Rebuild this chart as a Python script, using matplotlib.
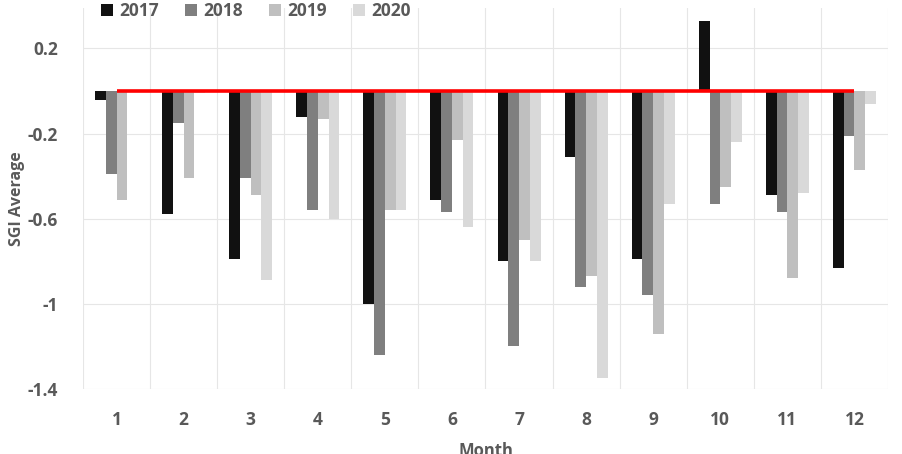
import matplotlib
matplotlib.use("Agg")
import matplotlib.pyplot as plt
import numpy as np

months = ["1", "2", "3", "4", "5", "6", "7", "8", "9", "10", "11", "12"]
years = ["2017", "2018", "2019", "2020"]
v2017 = [-0.04, -0.58, -0.79, -0.12, -1.00, -0.51, -0.80, -0.31, -0.79, 0.33, -0.49, -0.83]
v2018 = [-0.39, -0.15, -0.41, -0.56, -1.24, -0.57, -1.20, -0.92, -0.96, -0.53, -0.57, -0.21]
v2019 = [-0.51, -0.41, -0.49, -0.13, -0.56, -0.23, -0.70, -0.87, -1.14, -0.45, -0.88, -0.37]
v2020 = [0.0, -0.01, -0.89, -0.60, -0.56, -0.64, -0.80, -1.35, -0.53, -0.24, -0.48, -0.06]
colors = ["#111111", "#7f7f7f", "#bfbfbf", "#d9d9d9"]
yticks = [0.2, -0.2, -0.6, -1.0, -1.4]
ytick_labels = ["0.2", "-0.2", "-0.6", "-1", "-1.4"]

plt.rcParams['font.family'] = ['Open Sans', 'DejaVu Sans']
plt.rcParams['font.weight'] = 'bold'

fig = plt.figure(figsize=(9.03, 4.54), dpi=100)
ax = fig.add_axes([0.0919, 0.1432, 0.8915, 0.8392])

x = np.arange(len(months))
bw = 0.16
series = [v2017, v2018, v2019, v2020]
for i, (vals, c, yr) in enumerate(zip(series, colors, years)):
    ax.bar(x + (i - 1.5) * bw, vals, width=bw, color=c, label=yr, zorder=2)

ax.plot([x[0], x[-1]], [0, 0], color="#ff0000", lw=2.6, zorder=3, solid_capstyle='butt')

ax.set_xlim(-0.5, len(months) - 0.5)
ax.set_ylim(-1.4, 0.39)
ax.set_yticks(yticks)
ax.set_yticklabels(ytick_labels)
ax.set_xticks(x)
ax.set_xticklabels(months)

ax.set_xticks(np.arange(-0.5, len(months), 1.0), minor=True)
ax.grid(which='minor', axis='x', color='#e6e6e6', lw=0.8, zorder=0)
ax.grid(which='major', axis='y', color='#e6e6e6', lw=0.8, zorder=0)
ax.tick_params(which='both', length=0)
ax.tick_params(axis='x', pad=16, labelsize=12.5, labelcolor='#595959')
ax.tick_params(axis='y', pad=18, labelsize=12.5, labelcolor='#595959')
for s in ax.spines.values():
    s.set_visible(False)

ax.set_ylabel("SGI Average", fontsize=11.5, color='#595959', fontweight='bold', labelpad=2)
ax.set_xlabel("Month", fontsize=12, color='#595959', fontweight='bold', labelpad=9)

leg = ax.legend(loc='upper left', bbox_to_anchor=(0.112, 0.995), bbox_transform=fig.transFigure,
                ncol=4, frameon=False, fontsize=12.5, handlelength=0.7, handleheight=0.7,
                handletextpad=0.35, columnspacing=1.5, borderaxespad=0, borderpad=0)
for t in leg.get_texts():
    t.set_color('#595959')

fig.savefig("out.png", dpi=100)
